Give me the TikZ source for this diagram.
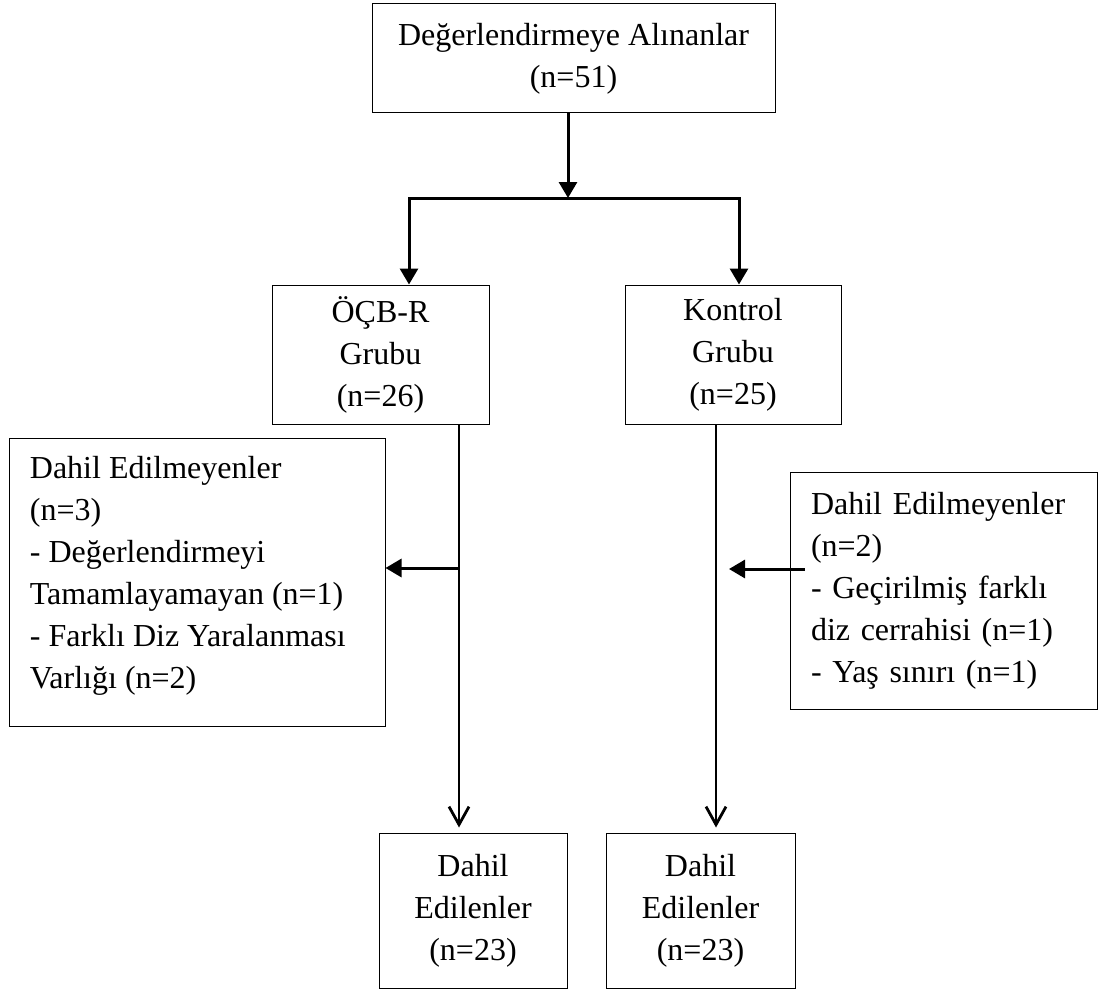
\documentclass[tikz,border=0pt]{standalone}
\usepackage{fontspec}
\setmainfont{Liberation Serif}
\usetikzlibrary{arrows.meta}

\begin{document}
\begin{tikzpicture}[x=0.5pt,y=-0.5pt]

\tikzset{box/.style = {draw, line width=0.5pt, align=center, inner sep=0pt, font=\fontsize{16pt}{21pt}\selectfont}}
\tikzset{extext/.style = {align=left, inner xsep=10.5pt, inner ysep=9pt, font=\fontsize{16pt}{21pt}\selectfont}}
\tikzset{edge/.style = {line width=1.5pt, -{Triangle[length=8pt,width=9pt]}}}
\tikzset{openedge/.style = {line width=1.4pt, -{Straight Barb[length=9pt,width=10pt]}}}

\useasboundingbox (0,0) rectangle (1103,990);

%boxes
\node[box, minimum width=201.5pt, minimum height=54.5pt] (alin) at (573.5,58.5) {Değerlendirmeye Alınanlar\\(n=51)};
\node[box, minimum width=108.5pt, minimum height=69.5pt] (ocbr) at (380.5,354.5) {ÖÇB-R\\Grubu\\(n=26)};
\node[box, minimum width=108pt, minimum height=69.5pt] (kontrol) at (733,354.5) {Kontrol\\Grubu\\(n=25)};
\node[box, minimum width=188pt, minimum height=144pt] (haricL) at (197,582) {};
\node[extext, anchor=north west] (haricLtext) at (haricL.north west) {Dahil Edilmeyenler\\(n=3)\\- Değerlendirmeyi\\Tamamlayamayan (n=1)\\- Farklı Diz Yaralanması\\Varlığı (n=2)};
\node[box, align=left, inner xsep=10.5pt, text width=132.5pt, minimum height=118.5pt] (haricR) at (943.5,590.5) {Dahil Edilmeyenler\\(n=2)\\- Geçirilmiş farklı\\diz cerrahisi (n=1)\\- Yaş sınırı (n=1)};
\node[box, minimum width=94pt, minimum height=77.5pt] (dahilL) at (473,910.5) {Dahil\\Edilenler\\(n=23)};
\node[box, minimum width=94.5pt, minimum height=77.5pt] (dahilR) at (700.5,910.5) {Dahil\\Edilenler\\(n=23)};

%branch points
\coordinate (split) at (568,198);
\coordinate (splitL) at (409,198);
\coordinate (splitR) at (739,198);
\coordinate (trunkL) at (459,568);
\coordinate (trunkR) at (716,569);

%edges
\draw[edge] (split |- alin.south) -- (split);
\draw[edge] (split) -| (splitL |- ocbr.north);
\draw[edge] (split) -| (splitR |- kontrol.north);
\draw[openedge] (trunkL |- ocbr.south) -- ([yshift=2.5pt]trunkL |- dahilL.north);
\draw[openedge] (trunkR |- kontrol.south) -- ([yshift=2.5pt]trunkR |- dahilR.north);
\draw[edge] (trunkL) -- (trunkL -| haricL.east);
\draw[edge] ([xshift=7.5pt]haricR.west |- trunkR) -- ([xshift=6.5pt]trunkR);

\end{tikzpicture}
\end{document}
